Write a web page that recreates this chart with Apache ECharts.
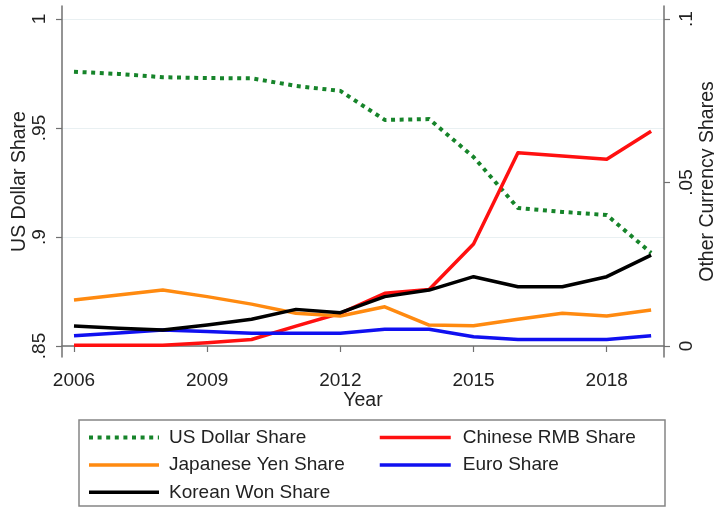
<!DOCTYPE html>
<html>
<head>
<meta charset="utf-8">
<script src="https://cdn.jsdelivr.net/npm/echarts@6/dist/echarts.min.js"></script>
<style>
  html, body { margin: 0; padding: 0; background: #fff; }
  #chart { width: 714px; height: 510px; }
</style>
</head>
<body>
<div id="chart"></div>
<script>
// Currency shares by year
const years = [2006, 2007, 2008, 2009, 2010, 2011, 2012, 2013, 2014, 2015, 2016, 2017, 2018, 2019];
const usDollarShare = [0.9758, 0.9748, 0.9733, 0.9729, 0.9728, 0.9693, 0.9670, 0.9537, 0.9541, 0.9367, 0.9133, 0.9115, 0.9101, 0.8927];
const rmbShare      = [0.0002, 0.0002, 0.0002, 0.0010, 0.0020, 0.0061, 0.0100, 0.0161, 0.0173, 0.0312, 0.0591, 0.0581, 0.0571, 0.0657];
const yenShare      = [0.0141, 0.0156, 0.0171, 0.0151, 0.0128, 0.0100, 0.0092, 0.0120, 0.0064, 0.0062, 0.0082, 0.0100, 0.0092, 0.0110];
const euroShare     = [0.0031, 0.0040, 0.0049, 0.0044, 0.0039, 0.0039, 0.0039, 0.0051, 0.0051, 0.0028, 0.0020, 0.0020, 0.0020, 0.0031];
const wonShare      = [0.0061, 0.0054, 0.0049, 0.0064, 0.0082, 0.0112, 0.0102, 0.0151, 0.0171, 0.0212, 0.0181, 0.0181, 0.0212, 0.0278];

const yearTicks = [2006, 2009, 2012, 2015, 2018];
const dollarTicks = [0.85, 0.9, 0.95, 1];
const otherTicks = [0, 0.05, 0.1];

const FONT = '"Liberation Sans", Arial, Helvetica, sans-serif';
const TEXT = '#222';
const AXIS = '#707070';

const pairs = vals => years.map((y, i) => [y, vals[i]]);
// Stata-style shares: drop the leading zero (".95", ".05")
const fmt = v => String(+(+v).toFixed(3)).replace(/^0\./, '.');

const chart = echarts.init(document.getElementById('chart'), null, { renderer: 'canvas' });

const lineSeries = (name, vals, color, axis, extra) => Object.assign({
  name: name,
  type: 'line',
  yAxisIndex: axis,
  data: pairs(vals),
  symbol: 'none',
  smooth: false,
  silent: true,
  animation: false,
  lineStyle: { color: color, width: 3.5, cap: 'butt', join: 'round' },
  itemStyle: { color: color }
}, extra || {});

const legendText = { fontSize: 19, color: TEXT, lineHeight: 22, padding: [0, 0, 0, 5], fontFamily: FONT };
const legendCommon = {
  orient: 'vertical',
  top: 421.5,
  itemHeight: 14,
  itemGap: 5.4,
  selectedMode: false,
  itemStyle: { opacity: 0 },
  lineStyle: { width: 'inherit' },
  textStyle: legendText
};

const axisName = { fontSize: 19.5, color: TEXT, fontFamily: FONT };
const tickLabel = { fontSize: 19, color: TEXT, fontFamily: FONT };

chart.setOption({
  backgroundColor: '#fff',
  animation: false,
  textStyle: { fontFamily: FONT },
  grid: { left: 62, right: 50, top: 6, bottom: 153, containLabel: false, outerBoundsMode: 'none' },
  xAxis: {
    type: 'value',
    min: 2005.73,
    max: 2019.29,
    name: 'Year',
    nameLocation: 'middle',
    nameGap: 34,
    nameMoveOverlap: false,
    nameTextStyle: axisName,
    axisLine: { show: true, lineStyle: { color: AXIS, width: 1.5 } },
    axisTick: { show: true, length: 6, customValues: yearTicks, lineStyle: { color: AXIS, width: 1.2 } },
    axisLabel: Object.assign({ customValues: yearTicks, margin: 14, formatter: v => String(Math.round(v)) }, tickLabel),
    splitLine: { show: false }
  },
  yAxis: [
    {
      type: 'value',
      position: 'left',
      min: 0.84495,
      max: 1.00596,
      name: 'US Dollar Share',
      nameLocation: 'middle',
      nameRotate: 90,
      nameGap: 32,
      nameMoveOverlap: false,
      nameTextStyle: axisName,
      axisLine: { show: true, lineStyle: { color: AXIS, width: 1.5 } },
      axisTick: { show: true, length: 6, customValues: dollarTicks, lineStyle: { color: AXIS, width: 1.2 } },
      axisLabel: Object.assign({ customValues: dollarTicks, rotate: 90, margin: 12.5, formatter: fmt }, tickLabel),
      splitLine: { show: true, lineStyle: { color: '#e9f0f2', width: 1 } }
    },
    {
      type: 'value',
      position: 'right',
      min: -0.003364,
      max: 0.10398,
      name: 'Other Currency Shares',
      nameLocation: 'middle',
      nameRotate: 90,
      nameGap: 33.5,
      nameMoveOverlap: false,
      nameTextStyle: axisName,
      axisLine: { show: true, lineStyle: { color: AXIS, width: 1.5 } },
      axisTick: { show: true, length: 6, customValues: otherTicks, lineStyle: { color: AXIS, width: 1.2 } },
      axisLabel: Object.assign({ customValues: otherTicks, rotate: 90, margin: 13, formatter: fmt }, tickLabel),
      splitLine: { show: false }
    }
  ],
  legend: [
    Object.assign({}, legendCommon, {
      data: ['US Dollar Share', 'Japanese Yen Share', 'Korean Won Share'],
      left: 82,
      itemWidth: 70
    }),
    Object.assign({}, legendCommon, {
      data: ['Chinese RMB Share', 'Euro Share'],
      left: 373,
      itemWidth: 71,
      textStyle: Object.assign({}, legendText, { padding: [0, 0, 0, 7] })
    })
  ],
  graphic: [
    {
      type: 'rect',
      silent: true,
      z: -1,
      shape: { x: 79, y: 420, width: 586, height: 86 },
      style: { fill: '#fff', stroke: '#858585', lineWidth: 1.5 }
    }
  ],
  series: [
    lineSeries('US Dollar Share', usDollarShare, '#16842a', 0, {
      lineStyle: { color: '#16842a', width: 4, type: [4, 4.6], cap: 'butt', join: 'round' }
    }),
    lineSeries('Chinese RMB Share', rmbShare, '#ff1010', 1),
    lineSeries('Japanese Yen Share', yenShare, '#ff8a10', 1),
    lineSeries('Euro Share', euroShare, '#1010f0', 1),
    lineSeries('Korean Won Share', wonShare, '#000000', 1)
  ]
});
</script>
</body>
</html>
